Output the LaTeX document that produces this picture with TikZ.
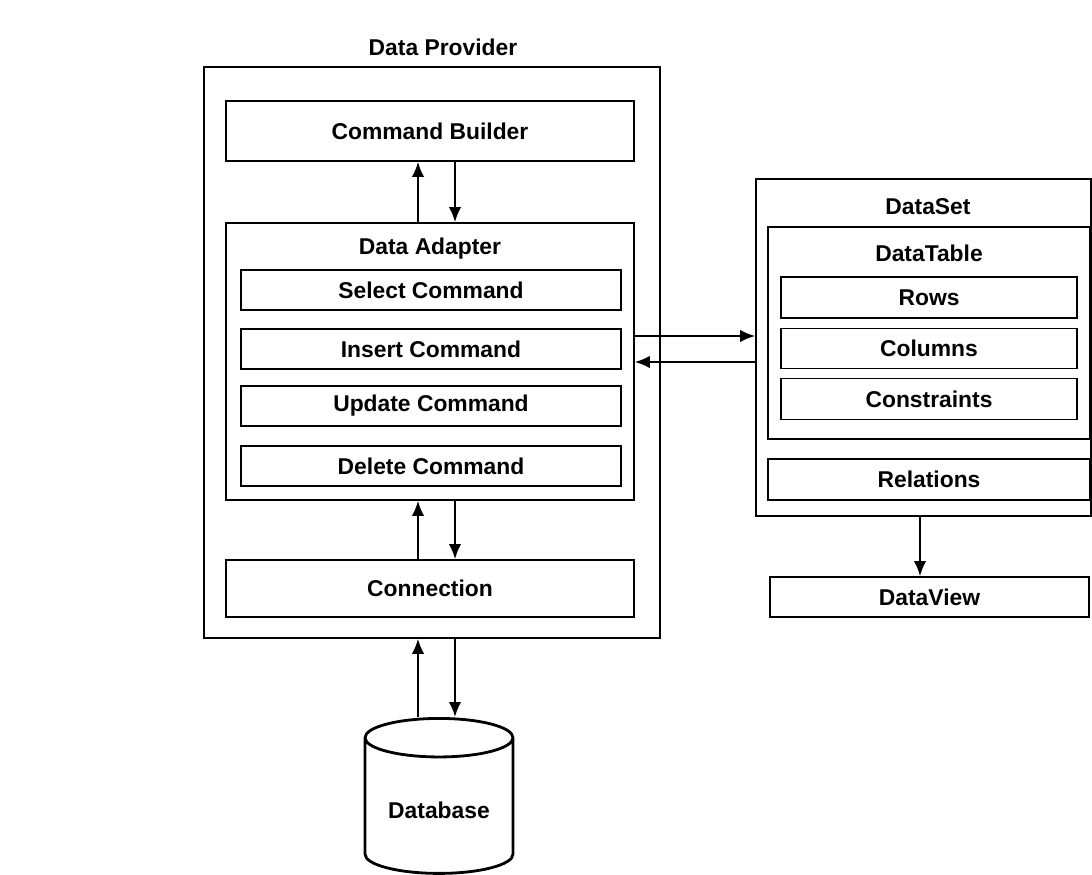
\documentclass[tikz,border=0pt]{standalone}
\usepackage{fontspec}
\setmainfont{Liberation Sans}
\usetikzlibrary{arrows.meta,shapes.geometric}

\begin{document}
\begin{tikzpicture}[x=0.02cm,y=-0.02cm,
	every node/.style={font=\bfseries\fontsize{13}{15}\selectfont},
	box/.style={rectangle, draw, line width=1pt, inner sep=0pt},
	lbl/.style={inner sep=0pt},
	arr/.style={-{Latex[length=3mm,width=2.5mm]}, line width=1.2pt}]

	\useasboundingbox (0,0) rectangle (1092,875);

	% provider side
	\node 	(title)	at	(443,47)	[lbl]{Data Provider};
	\node 	(prov)	at	(432,352.5)	[box, minimum width=9.12cm, minimum height=11.42cm]{};

	\node 	(cb)	at	(430,131)	[box, minimum width=8.16cm, minimum height=1.2cm]{Command Builder};

	\node 	(da)	at	(430,361.5)	[box, minimum width=8.16cm, minimum height=5.54cm]{};
	\node 	(dal)	at	(430,249)	[lbl]{Data Adapter};
	\node 	(sel)	at	(431,290)	[box, minimum width=7.6cm, minimum height=0.8cm]{Select Command};
	\node 	(ins)	at	(431,349)	[box, minimum width=7.6cm, minimum height=0.8cm]{Insert Command};
	\node 	(upd)	at	(431,406)	[box, minimum width=7.6cm, minimum height=0.8cm]{Update Command};
	\node 	(del)	at	(431,466)	[box, minimum width=7.6cm, minimum height=0.8cm]{Delete Command};

	\node 	(conn)	at	(430,588.5)	[box, minimum width=8.16cm, minimum height=1.14cm]{Connection};

	\node 	(db)	at	(439,810)	[cylinder, shape border rotate=90, aspect=0.34, draw, line width=1.6pt, minimum width=2.96cm, minimum height=3.1cm]{Database};

	% dataset side
	\node 	(ds)	at	(923.5,347.5)	[box, minimum width=6.7cm, minimum height=6.74cm]{};
	\node 	(dsl)	at	(928,207)	[lbl]{DataSet};
	\node 	(dt)	at	(929,333)	[box, minimum width=6.44cm, minimum height=4.24cm]{};
	\node 	(dtl)	at	(929,253)	[lbl]{DataTable};
	\node 	(rows)	at	(929,297.5)	[box, minimum width=5.92cm, minimum height=0.82cm]{Rows};
	\node 	(cols)	at	(929,348.5)	[box, minimum width=5.92cm, minimum height=0.8cm]{Columns};
	\node 	(cons)	at	(929,399)	[box, minimum width=5.92cm, minimum height=0.82cm]{Constraints};
	\node 	(rel)	at	(929,479.5)	[box, minimum width=6.44cm, minimum height=0.82cm]{Relations};

	\node 	(dv)	at	(929.5,597)	[box, minimum width=6.38cm, minimum height=0.8cm]{DataView};

	\coordinate	(up)	at	(418,0);
	\coordinate	(dn)	at	(455,0);
	\coordinate	(rt)	at	(0,336);
	\coordinate	(lt)	at	(0,362);
	\coordinate	(vw)	at	(920,0);

	\draw[arr]	(da.north -| up)	to	(cb.south -| up);
	\draw[arr]	(cb.south -| dn)	to	(da.north -| dn);
	\draw[arr]	(conn.north -| up)	to	(da.south -| up);
	\draw[arr]	(da.south -| dn)	to	(conn.north -| dn);
	\draw[arr]	(db.north -| up)	to	(prov.south -| up);
	\draw[arr]	(prov.south -| dn)	to	(db.north -| dn);

	\draw[arr]	(da.east |- rt)	to	(ds.west |- rt);
	\draw[arr]	(ds.west |- lt)	to	(da.east |- lt);
	\draw[arr]	(ds.south -| vw)	to	(dv.north -| vw);

\end{tikzpicture}
\end{document}
